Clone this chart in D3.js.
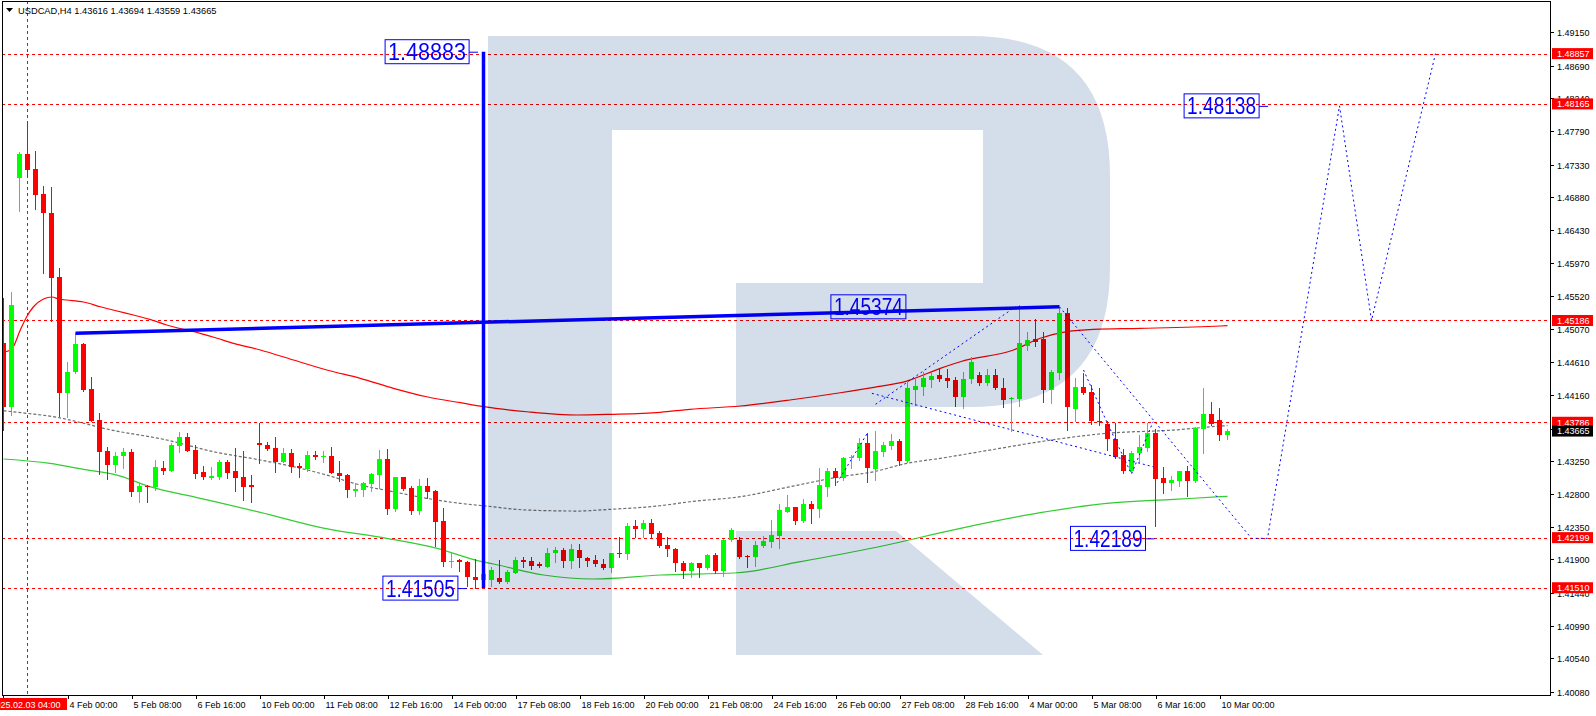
<!DOCTYPE html>
<html><head><meta charset="utf-8">
<script src="https://cdn.jsdelivr.net/npm/d3@7"></script>
<style>
html,body{margin:0;padding:0;background:#fff;}
svg{display:block;font-family:"Liberation Sans",Arial,sans-serif;}
</style>
</head><body>
<svg id="chart" width="1596" height="716"></svg>
<script>
// ---------------- DATA ----------------
const title = "USDCAD,H4  1.43616 1.43694 1.43559 1.43665";
const open = [1.44872,1.43992,1.47150,1.47476,1.47270,1.46926,1.46664,1.45779,1.44192,1.44473,
1.44863,1.44243,1.43817,1.43390,1.43198,1.43321,1.43381,1.42831,1.42910,1.42900,
1.43161,1.43120,1.43463,1.43587,1.43404,1.43106,1.43024,1.43037,1.43244,1.43120,
1.43037,1.42923,1.43505,1.43473,1.43427,1.43244,1.43359,1.43184,1.43138,1.43335,
1.43317,1.43321,1.43092,1.43060,1.42845,1.42855,1.42937,1.43060,1.43276,1.42593,
1.43028,1.42886,1.42570,1.42910,1.42841,1.42428,1.41865,1.41891,1.41869,1.41662,
1.41616,1.41616,1.41639,1.41593,1.41717,1.41891,1.41877,1.41832,1.41799,1.41983,
1.42029,1.41882,1.42029,1.41915,1.41891,1.41836,1.41785,1.41992,1.41970,1.42363,
1.42313,1.42396,1.42259,1.42098,1.42043,1.41846,1.41744,1.41846,1.41777,1.41960,
1.41744,1.42166,1.42166,1.41946,1.41928,1.42088,1.42143,1.42221,1.42556,1.42616,
1.42432,1.42661,1.42597,1.42900,1.43115,1.43024,1.43290,1.43298,1.43496,1.43143,
1.43381,1.43463,1.43528,1.43253,1.44230,1.44275,1.44367,1.44436,1.44401,1.44367,
1.44138,1.44381,1.44436,1.44330,1.44436,1.44261,1.44102,1.44106,1.44839,1.44931,
1.44927,1.44230,1.44467,1.45284,1.43968,1.44275,1.44206,1.43803,1.43762,1.43556,
1.43335,1.43120,1.43359,1.43427,1.43634,1.43015,1.42946,1.42982,1.43115,1.42982,
1.43689,1.43899,1.43817,1.43616];
const high = [1.45491,1.45574,1.47508,1.47934,1.47517,1.47036,1.47018,1.45903,1.44615,1.45010,
1.44872,1.44404,1.43909,1.43449,1.43381,1.43436,1.43418,1.42947,1.42923,1.43267,
1.43253,1.43505,1.43656,1.43642,1.43473,1.43184,1.43175,1.43267,1.43267,1.43427,
1.43390,1.43060,1.43771,1.43519,1.43579,1.43427,1.43414,1.43221,1.43394,1.43394,
1.43394,1.43440,1.43253,1.43070,1.42947,1.42960,1.43092,1.43404,1.43414,1.43037,
1.43037,1.42910,1.43001,1.43015,1.42850,1.42603,1.41992,1.41900,1.41875,1.41900,
1.41780,1.41799,1.41891,1.41753,1.41936,1.41936,1.41936,1.41869,1.42061,1.42074,
1.42052,1.42112,1.42107,1.41936,1.41960,1.41900,1.41992,1.42203,1.42396,1.42441,
1.42441,1.42451,1.42294,1.42212,1.42050,1.41878,1.41869,1.41850,1.41974,1.41983,
1.42176,1.42327,1.42212,1.41960,1.42157,1.42221,1.42441,1.42661,1.42785,1.42624,
1.42727,1.42703,1.43153,1.43161,1.43161,1.43312,1.43335,1.43573,1.43642,1.43665,
1.43519,1.43620,1.43551,1.44344,1.44404,1.44482,1.44459,1.44528,1.44514,1.44408,
1.44482,1.44688,1.44482,1.44518,1.44514,1.44390,1.44130,1.45399,1.45032,1.45202,
1.45032,1.44505,1.45374,1.45360,1.44399,1.44467,1.44298,1.44253,1.43807,1.43771,
1.43414,1.43394,1.43610,1.43771,1.43689,1.43175,1.43047,1.43120,1.43184,1.43725,
1.44261,1.44069,1.43982,1.43694];
const low = [1.43679,1.43886,1.46696,1.47201,1.46723,1.45843,1.45183,1.43872,1.43854,1.44460,
1.44220,1.43800,1.43070,1.43001,1.43106,1.43161,1.42772,1.42689,1.42689,1.42855,
1.43074,1.43110,1.43381,1.43390,1.43015,1.43001,1.43001,1.43001,1.43024,1.42845,
1.42717,1.42689,1.43221,1.43404,1.43106,1.43235,1.43106,1.43037,1.43115,1.43276,
1.43244,1.43083,1.42983,1.42763,1.42772,1.42772,1.42845,1.42878,1.42524,1.42570,
1.42855,1.42524,1.42524,1.42740,1.42084,1.41814,1.41800,1.41744,1.41534,1.41505,
1.41560,1.41534,1.41579,1.41579,1.41708,1.41799,1.41767,1.41799,1.41791,1.41868,
1.41791,1.41777,1.41799,1.41813,1.41813,1.41763,1.41730,1.41936,1.41900,1.42212,
1.42212,1.42190,1.42066,1.41946,1.41744,1.41639,1.41662,1.41662,1.41763,1.41717,
1.41671,1.42157,1.41923,1.41799,1.41813,1.42066,1.42066,1.42052,1.42550,1.42382,
1.42418,1.42404,1.42487,1.42772,1.42923,1.42992,1.43152,1.43267,1.42968,1.42992,
1.43322,1.43418,1.43198,1.43244,1.44023,1.44161,1.44275,1.44358,1.44271,1.44010,
1.43978,1.44322,1.44298,1.44298,1.44245,1.43992,1.43670,1.44010,1.44780,1.44835,
1.44069,1.44046,1.44377,1.43679,1.43807,1.44175,1.43762,1.43748,1.43404,1.43290,
1.43092,1.43106,1.43244,1.43394,1.42359,1.42817,1.42855,1.42909,1.42772,1.42968,
1.43359,1.43748,1.43542,1.43559];
const close = [1.43992,1.45399,1.47476,1.47260,1.46912,1.46660,1.45774,1.44192,1.44473,1.44863,
1.44234,1.43807,1.43381,1.43198,1.43321,1.43381,1.42831,1.42910,1.42889,1.43175,
1.43116,1.43473,1.43587,1.43394,1.43074,1.43037,1.43047,1.43244,1.43092,1.43024,
1.42900,1.42900,1.43469,1.43425,1.43244,1.43367,1.43175,1.43152,1.43335,1.43312,
1.43321,1.43092,1.43051,1.42855,1.42868,1.42955,1.43070,1.43276,1.42593,1.43028,
1.42868,1.42570,1.42910,1.42831,1.42418,1.41869,1.41874,1.41859,1.41654,1.41616,
1.41700,1.41753,1.41593,1.41730,1.41891,1.41869,1.41813,1.41813,1.41983,1.42029,
1.41882,1.42043,1.41915,1.41882,1.41832,1.41777,1.41983,1.41970,1.42359,1.42313,
1.42396,1.42245,1.42084,1.42043,1.41846,1.41744,1.41846,1.41777,1.41960,1.41744,
1.42166,1.42304,1.41936,1.41928,1.42098,1.42157,1.42235,1.42579,1.42616,1.42432,
1.42661,1.42597,1.42919,1.43115,1.43024,1.43298,1.43312,1.43496,1.43161,1.43390,
1.43473,1.43528,1.43257,1.44261,1.44285,1.44399,1.44422,1.44381,1.44353,1.44138,
1.44381,1.44619,1.44330,1.44436,1.44253,1.44092,1.44124,1.44880,1.44917,1.44894,
1.44230,1.44481,1.45284,1.44000,1.44275,1.44192,1.43807,1.43785,1.43551,1.43312,
1.43120,1.43367,1.43449,1.43634,1.43005,1.42955,1.42992,1.43115,1.42982,1.43703,
1.43899,1.43762,1.43611,1.43665];

// moving averages: [bar index, price]
const maRed = [[0,1.44748],[1,1.44789],[2.1,1.45055],[2.9,1.45238],[3.75,1.45375],[5,1.45481],[6.05,1.45509],
 [6.9,1.45481],[7.9,1.45468],[10,1.45440],[12.1,1.45375],[14.2,1.45316],[16.25,1.45261],[18.3,1.45202],
 [20.4,1.45124],[22.5,1.45064],[24.6,1.45009],[26.7,1.44941],[28.75,1.44872],[32.1,1.44780],[36.25,1.44642],
 [40.4,1.44505],[44.6,1.44390],[48.75,1.44253],[52.9,1.44137],[57.1,1.44055],[60,1.44000],[65.4,1.43931],
 [71.7,1.43886],[75.8,1.43895],[82.1,1.43923],[85.8,1.43964],[92.1,1.44010],[98.3,1.44092],[104.6,1.44192],
 [108.8,1.44267],[112.9,1.44353],[117.1,1.44528],[119.6,1.44619],[126.25,1.44780],[129.6,1.44941],
 [132.9,1.45032],[136.25,1.45065],[142.1,1.45078],[152.1,1.45110],[153,1.45115]];
const maGray = [[0,1.43945],[2.9,1.43909],[6.7,1.43854],[9.2,1.43794],[12.9,1.43693],[20.4,1.43542],
 [26.25,1.43381],[32.1,1.43267],[36.25,1.43175],[40.4,1.43060],[44.6,1.42923],[48.75,1.42830],[52.9,1.42740],
 [57.1,1.42671],[60,1.42638],[65.4,1.42579],[71.7,1.42565],[75.8,1.42588],[82.1,1.42638],[85.8,1.42693],
 [92.1,1.42762],[98.3,1.42899],[104.6,1.43037],[108.8,1.43106],[112.9,1.43221],[117.1,1.43290],
 [123.3,1.43404],[129.6,1.43519],[137.9,1.43634],[146.25,1.43679],[152.1,1.43734],[153,1.43740]];
const maGreen = [[0,1.43281],[5.8,1.43221],[10,1.43139],[14.2,1.43060],[18.3,1.42900],[24.6,1.42740],
 [32.1,1.42547],[40,1.42330],[47.9,1.42190],[54.2,1.42052],[59.8,1.41868],[61.25,1.41836],[67.5,1.41685],
 [73.75,1.41630],[82.1,1.41685],[91.7,1.41716],[99.6,1.41868],[108.8,1.42060],[119.6,1.42327],
 [129.6,1.42542],[137.9,1.42671],[146.25,1.42726],[152.1,1.42762],[153,1.42768]];

// x axis labels
const xTickBars = [8,16,24,32,40,48,56,64,72,80,88,96,104,112,120,128,136,144,152];
const xTickLabels = ["4 Feb 00:00","5 Feb 08:00","6 Feb 16:00","10 Feb 00:00","11 Feb 08:00","12 Feb 16:00",
 "14 Feb 00:00","17 Feb 08:00","18 Feb 16:00","20 Feb 00:00","21 Feb 08:00","24 Feb 16:00","26 Feb 00:00",
 "27 Feb 08:00","28 Feb 16:00","4 Mar 00:00","5 Mar 08:00","6 Mar 16:00","10 Mar 00:00"];
const cursorBar = 3, cursorLabel = "2025.02.03 04:00";

// y axis labels
const yTickLabels = ["1.49150","1.48690","1.48240","1.47790","1.47330","1.46880","1.46430","1.45970","1.45520",
 "1.45070","1.44610","1.44160","1.43700","1.43250","1.42800","1.42350","1.41900","1.41440","1.40990","1.40540","1.40080"];

// horizontal levels and current price
const levels = [1.48857,1.48165,1.45186,1.43786,1.42199,1.41510];
const currentPrice = 1.43665;

// analysis drawings
const thickTrend = [[9,1.45010],[132,1.45374]];
const thickVertical = [[60,1.48883],[60,1.41505]];
const forecast = [[132,1.45374],[156,1.42189],[158,1.42189],[167,1.48138],[171,1.45186],[179,1.48857]];
const waveUp = [[104.2,1.42954],[108.05,1.43648]];
const wedgeUpper = [[109,1.44033],[126.5,1.45375]];
const wedgeLower = [[108.55,1.44184],[143.7,1.43174]];
const waveSmall = [[135,1.44505],[137.9,1.43793],[141,1.43074],[143.7,1.43793]];
const blueLabels = [
 {text:"1.48883", bar:58.2, price:1.48883, dash:true},
 {text:"1.41505", bar:56.8, price:1.41505, dash:true},
 {text:"1.45374", bar:112.8, price:1.45374, dash:false},
 {text:"1.42189", bar:142.75, price:1.42189, dash:true},
 {text:"1.48138", bar:156.95, price:1.48138, dash:true}
];

// ---------------- DRAW ----------------
const svg = d3.select("#chart");
const P = {l:2, t:1, r:1550, b:695};
const x = d3.scaleLinear().domain([0, 1]).range([3.5, 11.5]);
const y = d3.scaleLinear().domain([1.4008, 1.4915]).range([691.7, 32.3]);

svg.append("rect").attr("width",1596).attr("height",716).attr("fill","#fff");
const defs = svg.append("defs");
defs.append("clipPath").attr("id","plotclip")
  .append("rect").attr("x",P.l).attr("y",P.t).attr("width",P.r-P.l).attr("height",P.b-P.t);

const g = svg.append("g").attr("clip-path","url(#plotclip)");

// level lines
g.selectAll(".lvl").data(levels).join("line")
  .attr("x1",P.l).attr("x2",P.r)
  .attr("y1",d=>Math.round(y(d))+0.5).attr("y2",d=>Math.round(y(d))+0.5)
  .attr("stroke","#ff0000").attr("stroke-width",1).attr("stroke-dasharray","3,3");
// cursor vertical line
g.append("line").attr("x1",x(cursorBar)).attr("x2",x(cursorBar)).attr("y1",P.t).attr("y2",P.b)
  .attr("stroke","#ff0000").attr("stroke-dasharray","3,3");

// MAs
const line = d3.line().x(d=>x(d[0])).y(d=>y(d[1])).curve(d3.curveMonotoneX);
g.append("path").attr("d",line(maGray)).attr("fill","none").attr("stroke","#6e6e6e").attr("stroke-width",1.2).attr("stroke-dasharray","3,2");
g.append("path").attr("d",line(maGreen)).attr("fill","none").attr("stroke","#33cc33").attr("stroke-width",1.2);
g.append("path").attr("d",line(maRed)).attr("fill","none").attr("stroke","#ff0000").attr("stroke-width",1.2);

// candles
const bars = d3.range(open.length).map(i=>({i,o:open[i],h:high[i],l:low[i],c:close[i]}));
const cg = g.append("g").attr("shape-rendering","crispEdges");
const col = d=> d.c>=d.o ? "#00ff00" : "#ff0000";
cg.selectAll(".wick").data(bars).join("line")
  .attr("x1",d=>x(d.i)).attr("x2",d=>x(d.i))
  .attr("y1",d=>Math.round(y(d.h))).attr("y2",d=>Math.round(y(d.l))+1)
  .attr("stroke",col).attr("stroke-width",1);
cg.selectAll(".body").data(bars).join("rect")
  .attr("x",d=>x(d.i)-2.5).attr("width",5)
  .attr("y",d=>Math.round(y(Math.max(d.o,d.c))))
  .attr("height",d=>Math.max(1,Math.round(y(Math.min(d.o,d.c)))-Math.round(y(Math.max(d.o,d.c)))))
  .attr("fill",col);

// thin blue dotted drawings
const straight = d3.line().x(d=>x(d[0])).y(d=>y(d[1]));
[forecast, waveUp, wedgeUpper, wedgeLower, waveSmall].forEach(s=>{
  g.append("path").attr("d",straight(s)).attr("fill","none").attr("stroke","#0000ff")
   .attr("stroke-width",1).attr("stroke-dasharray","2,3");
});
// thick lines
g.append("path").attr("d",straight(thickTrend)).attr("fill","none").attr("stroke","#0000ff").attr("stroke-width",3.5);
g.append("path").attr("d",straight(thickVertical)).attr("fill","none").attr("stroke","#0000ff").attr("stroke-width",3.5);

// blue labels
blueLabels.forEach((b,k)=>{
  const rx = x(b.bar), cy = y(b.price);
  const w = k===0 ? 84 : 75;
  g.append("rect").attr("x",rx-w).attr("y",cy-12).attr("width",w).attr("height",24)
    .attr("fill","none").attr("stroke","#0000ff").attr("stroke-width",1);
  g.append("text").attr("x",rx-w+3).attr("y",cy+8.5).attr("fill","#0000ff")
    .attr("font-size",24).attr("textLength",w-6).attr("lengthAdjust","spacingAndGlyphs").text(b.text);
  if(b.dash) g.append("line").attr("x1",rx).attr("x2",rx+9).attr("y1",cy+0.5).attr("y2",cy+0.5)
    .attr("stroke","#0000ff").attr("stroke-width",1);
});

// watermark "R" (decoration) drawn with multiply on top
const wm = g.append("g").style("mix-blend-mode","multiply").attr("fill","#d4ddea");
wm.append("rect").attr("x",488).attr("y",36).attr("width",124).attr("height",619);
wm.append("path").attr("d","M612,36 H970 Q1110,36 1110,176 V267 Q1110,407 970,407 H736 V283 H983 V130 H612 Z");
wm.append("path").attr("d","M736,531 H896 L1043,655 H736 Z");

// frame
svg.append("rect").attr("x",P.l+0.5).attr("y",P.t+0.5).attr("width",P.r-P.l).attr("height",P.b-P.t)
  .attr("fill","none").attr("stroke","#000").attr("stroke-width",1).attr("shape-rendering","crispEdges");

// title
svg.append("path").attr("d","M6,8 L13,8 L9.5,12 Z").attr("fill","#000");
svg.append("text").attr("x",18).attr("y",14).attr("font-size",9.3).attr("fill","#000").text(title);

// y axis
const ya = svg.append("g");
yTickLabels.forEach(t=>{
  const yy = Math.round(y(+t))+0.5;
  ya.append("line").attr("x1",P.r).attr("x2",P.r+4).attr("y1",yy).attr("y2",yy).attr("stroke","#000");
  ya.append("text").attr("x",1557).attr("y",yy+3.3).attr("font-size",9).attr("fill","#000").text(t);
});
// level tags
const tag = (p,bg)=>{
  const yy = y(p);
  ya.append("rect").attr("x",1552).attr("y",yy-5.5).attr("width",41).attr("height",11).attr("fill",bg);
  ya.append("text").attr("x",1557).attr("y",yy+3.3).attr("font-size",9).attr("fill","#fff").text(p.toFixed(5));
};
levels.forEach(p=>tag(p,"#ff0000"));
tag(currentPrice,"#000");

// x axis
const xa = svg.append("g");
xTickBars.forEach((b,k)=>{
  const xx = Math.round(x(b))+0.5;
  xa.append("line").attr("x1",xx).attr("x2",xx).attr("y1",P.b).attr("y2",P.b+4).attr("stroke","#000");
  xa.append("text").attr("x",xx+1).attr("y",707.5).attr("font-size",9).attr("fill","#000").text(xTickLabels[k]);
});
xa.append("line").attr("x1",3.5).attr("x2",3.5).attr("y1",P.b).attr("y2",P.b+4).attr("stroke","#000");
xa.append("rect").attr("x",0).attr("y",698).attr("width",67).attr("height",12).attr("fill","#ff0000");
xa.append("text").attr("x",x(cursorBar)-2).attr("y",707.5).attr("text-anchor","middle").attr("font-size",9)
  .attr("fill","#fff").text(cursorLabel);
</script>
</body></html>
